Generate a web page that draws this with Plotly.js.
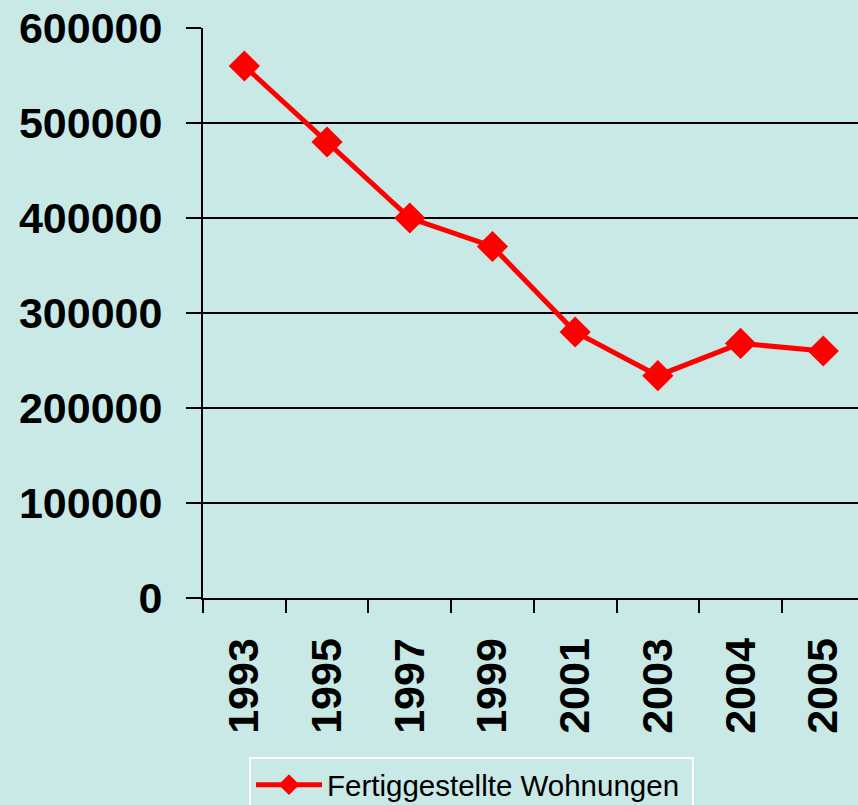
<!DOCTYPE html>
<html>
<head>
<meta charset="utf-8">
<script src="https://cdn.plot.ly/plotly-3.0.1.min.js"></script>
<style>
  html, body { margin: 0; padding: 0; background: #c8e9e5; overflow: hidden; }
  #chart { width: 858px; height: 805px; }
</style>
</head>
<body>
<div id="chart"></div>
<script>
// Fertiggestellte Wohnungen, values
var years = ['1993', '1995', '1997', '1999', '2001', '2003', '2004', '2005'];
var wohnungen = [560000, 480000, 400000, 370000, 280000, 234000, 268000, 260000];
var yTicks = [0, 100000, 200000, 300000, 400000, 500000, 600000];

var bg = '#c8e9e5';
var tickFont = { family: 'Liberation Sans, Arial, sans-serif', size: 43, color: '#000000', weight: 'bold' };

var data = [{
    x: years,
    y: wohnungen,
    type: 'scatter',
    mode: 'lines+markers',
    name: 'Fertiggestellte Wohnungen',
    line: { color: '#ff0000', width: 5 },
    marker: { symbol: 'diamond', size: 24, color: '#ff0000' },
    cliponaxis: false
}];

var layout = {
    width: 858,
    height: 805,
    margin: { l: 203, r: 0, t: 28, b: 207 },
    paper_bgcolor: bg,
    plot_bgcolor: bg,
    showlegend: true,
    xaxis: {
        type: 'category',
        range: [-0.5, 7.42],
        tickson: 'boundaries',
        ticks: 'outside',
        ticklen: 13,
        tickwidth: 2,
        tickcolor: '#000000',
        tickangle: -90,
        tickfont: tickFont,
        ticklabelstandoff: 21,
        showgrid: false,
        showline: true,
        linecolor: '#000000',
        linewidth: 2,
        zeroline: false,
        automargin: false
    },
    yaxis: {
        range: [0, 600000],
        tickvals: yTicks,
        ticktext: yTicks.map(String),
        ticks: 'outside',
        ticklen: 15,
        tickwidth: 2,
        tickcolor: '#000000',
        tickfont: tickFont,
        ticklabelstandoff: 15,
        showgrid: true,
        gridcolor: '#000000',
        gridwidth: 2,
        showline: true,
        linecolor: '#000000',
        linewidth: 2,
        zeroline: false,
        automargin: false
    },
    legend: {
        orientation: 'h',
        xref: 'container',
        yref: 'container',
        x: 249 / 858,
        xanchor: 'left',
        y: (805 - 757) / 805,
        yanchor: 'top',
        bgcolor: 'rgba(0,0,0,0)',
        bordercolor: '#ffffff',
        borderwidth: 2,
        itemwidth: 66,
        entrywidth: 360,
        font: { family: 'Liberation Sans, Arial, sans-serif', size: 29.5, color: '#000000' }
    }
};

Plotly.newPlot('chart', data, layout, { displayModeBar: false, staticPlot: true });
</script>
</body>
</html>
